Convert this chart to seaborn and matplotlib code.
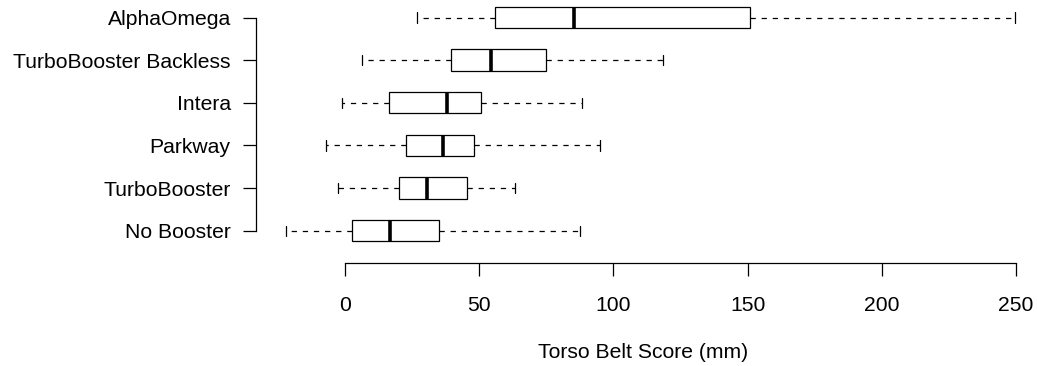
import matplotlib
matplotlib.use("Agg")
import matplotlib.pyplot as plt
import seaborn as sns
import pandas as pd

# Categories (top to bottom) and five-number summaries
categories = ["AlphaOmega", "TurboBooster Backless", "Intera", "Parkway",
              "TurboBooster", "No Booster"]
mins    = [26.9,  6.2, -1.2, -7.1, -2.7, -22.0]
q1s     = [56.0, 39.4, 16.4, 22.7, 20.0,   2.6]
medians = [85.4, 54.3, 38.0, 36.6, 30.6,  16.9]
q3s     = [150.9, 75.0, 50.6, 48.2, 45.6, 35.1]
maxs    = [249.6, 118.4, 88.2, 95.0, 63.5, 87.6]
xticks = [0, 50, 100, 150, 200, 250]
xlabel = "Torso Belt Score (mm)"

rows = []
for i, c in enumerate(categories):
    for v in (mins[i], q1s[i], medians[i], q3s[i], maxs[i]):
        rows.append({"group": c, "score": v})
df = pd.DataFrame(rows)

sns.set_style("white")
plt.rcParams["font.family"] = ["Liberation Sans", "DejaVu Sans"]
plt.rcParams["font.size"] = 15
plt.rcParams["lines.scale_dashes"] = False
plt.rcParams["text.color"] = "black"
plt.rcParams["axes.labelcolor"] = "black"
plt.rcParams["xtick.color"] = "black"
plt.rcParams["ytick.color"] = "black"

W, H = 1038, 366
fig = plt.figure(figsize=(W / 100, H / 100), dpi=100)
ppu = 2.684  # pixels per data unit
x0px = 345.0
xmin, xmax = -33.0, 255.0
left_px = x0px + xmin * ppu
right_px = x0px + xmax * ppu
bottom_px = 262.5
ax = fig.add_axes([left_px / W, (H - bottom_px) / H,
                   (right_px - left_px) / W, bottom_px / H])

sns.boxplot(data=df, x="score", y="group", order=categories, orient="h",
            whis=(0, 100), width=0.5, color="white", linecolor="black",
            linewidth=0.9, saturation=1, fliersize=0, ax=ax,
            whiskerprops=dict(linestyle=(0, (3.8, 4.2)), linewidth=0.9),
            medianprops=dict(linewidth=2.6, color="black"),
            capwidths=0.24)

ax.set_xlim(xmin, xmax)
row_px = 42.64
ax.set_ylim(5 + (bottom_px - 230.7) / row_px, -17.5 / row_px)

for s in ("top", "right"):
    ax.spines[s].set_visible(False)
for s in ("left", "bottom"):
    ax.spines[s].set_color("black")
    ax.spines[s].set_linewidth(0.9)
ax.spines["left"].set_bounds(0, 5)
ax.spines["bottom"].set_bounds(0, 250)

ax.set_xticks(xticks)
ax.set_xticklabels([str(t) for t in xticks])
ax.tick_params(axis="x", direction="out", length=9, width=0.9, pad=15,
               colors="black", labelsize=15.2, bottom=True)
ax.tick_params(axis="y", direction="out", length=9.5, width=0.9, pad=9,
               colors="black", labelsize=15.2, left=True)
ax.set_ylabel("")
ax.set_xlabel(xlabel, fontsize=15.2, labelpad=20, color="black")
ax.patch.set_alpha(0)

fig.savefig("out.png", dpi=100)
